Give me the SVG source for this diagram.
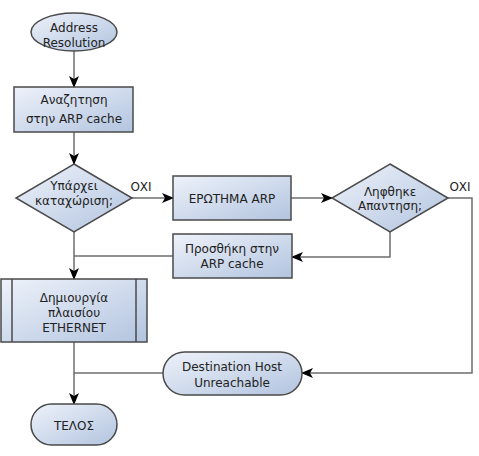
<svg xmlns="http://www.w3.org/2000/svg" width="479" height="456" viewBox="0 0 479 456">
<defs>
<linearGradient id="g" x1="0" y1="0" x2="1" y2="1">
<stop offset="0" stop-color="#eef2fa"/>
<stop offset="1" stop-color="#b2c4df"/>
</linearGradient>
<marker id="arr" viewBox="0 0 12 10" markerWidth="12" markerHeight="10" refX="11" refY="5" orient="auto" markerUnits="userSpaceOnUse">
<path d="M0,0 L12,5 L0,10 L3,5 z" fill="#000"/>
</marker>
<style>
.s{fill:url(#g);stroke:#4a4a4a;stroke-width:1.5}
.c{fill:none;stroke:#6e6e6e;stroke-width:1.5}
.a{marker-end:url(#arr)}
text{font-family:"DejaVu Sans",sans-serif;font-size:12px;fill:#222;text-anchor:middle}
</style>
</defs>
<g id="connectors">
<path class="c a" d="M74,51 L74,87"/>
<path class="c a" d="M74,132 L74,164"/>
<path class="c a" d="M132,198 L173,198"/>
<path class="c a" d="M291,198 L332,198"/>
<path class="c a" d="M448,198 L472,198 L472,373 L302,373"/>
<path class="c a" d="M390,232 L390,257 L292,257"/>
<path class="c" d="M173,256 L74,256"/>
<path class="c a" d="M74,232 L74,279"/>
<path class="c a" d="M74,342 L74,404"/>
<path class="c" d="M163,373 L74,373"/>
<text x="141" y="191">ΟΧΙ</text>
<text x="460" y="191">ΟΧΙ</text>
</g>
<g id="start">
<ellipse class="s" cx="74" cy="32" rx="43" ry="19"/>
<text x="74" y="32">Address</text>
<text x="74" y="47">Resolution</text>
</g>
<g id="search">
<rect class="s" x="14" y="87" width="119" height="45"/>
<text x="74" y="104">Αναζητηση</text>
<text x="74" y="123">στην ARP cache</text>
</g>
<g id="exists">
<path class="s" d="M74,164 L132,198 L74,232 L16,198 z"/>
<text x="74" y="190">Υπάρχει</text>
<text x="74" y="205">καταχώριση;</text>
</g>
<g id="query">
<rect class="s" x="173" y="176" width="118" height="44"/>
<text x="232" y="203">ΕΡΩΤΗΜΑ ARP</text>
</g>
<g id="reply">
<path class="s" d="M390,164 L448,198 L390,232 L332,198 z"/>
<text x="390" y="196">Ληφθηκε</text>
<text x="390" y="210">Απαντηση;</text>
</g>
<g id="add">
<rect class="s" x="173" y="234" width="119" height="44"/>
<text x="232" y="253">Προσθήκη στην</text>
<text x="232" y="268">ARP cache</text>
</g>
<g id="frame">
<rect class="s" x="1" y="279" width="146" height="63"/>
<line x1="12" y1="279" x2="12" y2="342" stroke="#4a4a4a" stroke-width="1.5"/>
<line x1="136" y1="279" x2="136" y2="342" stroke="#4a4a4a" stroke-width="1.5"/>
<text x="74" y="302">Δημιουργία</text>
<text x="74" y="317">πλαισίου</text>
<text x="74" y="332">ETHERNET</text>
</g>
<g id="unreachable">
<rect class="s" x="163" y="352" width="139" height="43" rx="21.5" ry="21.5"/>
<text x="232" y="371">Destination Host</text>
<text x="232" y="387">Unreachable</text>
</g>
<g id="end">
<rect class="s" x="31" y="404" width="86" height="41" rx="20.5" ry="20.5"/>
<text x="74" y="430">ΤΕΛΟΣ</text>
</g>
</svg>
